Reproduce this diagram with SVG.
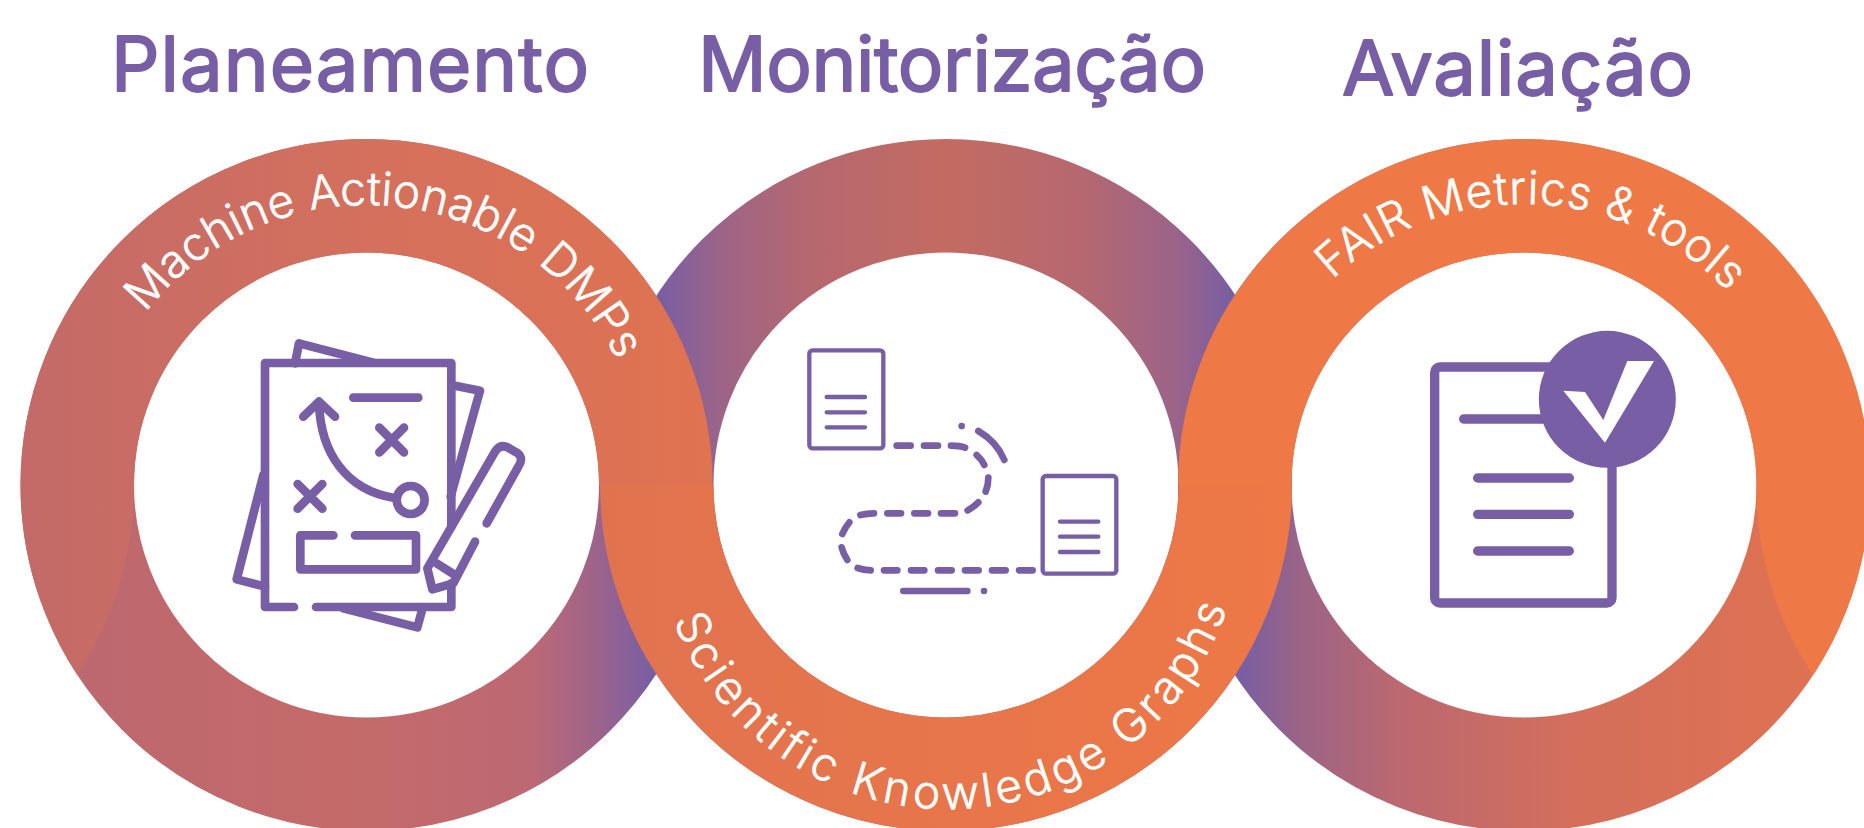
<svg xmlns="http://www.w3.org/2000/svg" width="1864" height="828" viewBox="0 0 1864 828">
<style>
.title{font-family:"Inter","Noto Sans",sans-serif;font-size:76px;font-weight:400;fill:#775ea5;stroke:#775ea5;stroke-width:1.8px;stroke-linejoin:round}
.ring{font-family:"Inter","Noto Sans",sans-serif;font-size:46px;font-weight:300;fill:#fff;stroke:#fff;stroke-width:.6px;stroke-linejoin:round}
.r{fill:none;stroke-width:113.5}
.i{fill:none;stroke:#775ea5;stroke-linecap:round;stroke-linejoin:round}
.w{fill:#fff}
</style>
<defs>
<linearGradient id="gLL" gradientUnits="userSpaceOnUse" x1="21" y1="0" x2="655" y2="0">
<stop offset="0" stop-color="#bb6871"/><stop offset="0.5" stop-color="#c46a69"/><stop offset="0.8" stop-color="#bd6973"/><stop offset="0.9" stop-color="#a06488"/><stop offset="1" stop-color="#775ea5"/>
</linearGradient>
<linearGradient id="gLU" gradientUnits="userSpaceOnUse" x1="21" y1="0" x2="713" y2="0">
<stop offset="0" stop-color="#c36a68"/><stop offset="0.5" stop-color="#d4705d"/><stop offset="1" stop-color="#e07350"/>
</linearGradient>
<linearGradient id="gMU" gradientUnits="userSpaceOnUse" x1="655" y1="0" x2="1237" y2="0">
<stop offset="0" stop-color="#775ea5"/><stop offset="0.11" stop-color="#9c6488"/><stop offset="0.27" stop-color="#b6686f"/><stop offset="0.5" stop-color="#c36b62"/><stop offset="0.73" stop-color="#b6686f"/><stop offset="0.89" stop-color="#9c6488"/><stop offset="1" stop-color="#775ea5"/>
</linearGradient>
<linearGradient id="gML" gradientUnits="userSpaceOnUse" x1="600" y1="0" x2="1292" y2="0">
<stop offset="0" stop-color="#e0734f"/><stop offset="1" stop-color="#ee7846"/>
</linearGradient>
<linearGradient id="gRL" gradientUnits="userSpaceOnUse" x1="1237" y1="0" x2="1870" y2="0">
<stop offset="0" stop-color="#775ea5"/><stop offset="0.1" stop-color="#9b6486"/><stop offset="0.25" stop-color="#bb6870"/><stop offset="0.55" stop-color="#d56f5a"/><stop offset="1" stop-color="#e07250"/>
</linearGradient>
<clipPath id="cL"><rect x="0" y="0" width="1000" height="485"/><circle cx="-212" cy="485" r="346"/></clipPath>
<clipPath id="cM"><rect x="500" y="485" width="900" height="400"/></clipPath>
<clipPath id="cR"><rect x="1100" y="0" width="900" height="485"/><circle cx="2102" cy="485" r="346"/></clipPath>
<path id="pL" d="M145.700 312.900A280 280 0 0 1 617.100 360.100"/>
<path id="pR" d="M1332.400 279.500A281 281 0 0 1 1727.800 291.600"/>
<path id="pM" d="M673.500 620.400A294 294 0 0 0 1227 607.800"/>
</defs>

<g id="titles">
<text class="title" id="t1" x="111" y="91" textLength="478" lengthAdjust="spacing">Planeamento</text>
<text class="title" id="t2" x="698" y="91" textLength="508" lengthAdjust="spacing">Monitorização</text>
<text class="title" id="t3" x="1342" y="95" textLength="351" lengthAdjust="spacing">Avaliação</text>
</g>

<g id="connectors">
<circle class="r" cx="366.500" cy="485" r="289.250" stroke="url(#gLL)"/>
<circle class="r" cx="946" cy="485" r="289.250" stroke="url(#gMU)"/>
<circle class="r" cx="1524" cy="485" r="289.250" stroke="url(#gRL)"/>
<circle class="r" cx="366.500" cy="485" r="289.250" stroke="url(#gLU)" clip-path="url(#cL)"/>
<circle class="r" cx="946" cy="485" r="289.250" stroke="url(#gML)" clip-path="url(#cM)"/>
<circle class="r" cx="1524" cy="485" r="289.250" stroke="#ee7846" clip-path="url(#cR)"/>
</g>

<g id="node-planeamento">
<text class="ring"><textPath href="#pL" textLength="565" lengthAdjust="spacing">Machine Actionable DMPs</textPath></text>
<g transform="translate(200 320) scale(.33333)" class="i" stroke-width="26">
<path d="M285 130L297 70L520 128M754 195L840 212L752 530M190 465L110 778L195 800M430 865L652 922L665 875"/>
<path d="M282 861H195V129H754V620M754 790V861H348"/>
<path d="M460 233H655M310 290L357 245L405 290M357 250C362 400 440 510 580 533M538 323L612 397M612 323L538 397M293 492L367 566M367 492L293 566"/>
<circle cx="632" cy="540" r="42"/>
<path d="M400 646H301V748H648V646H465"/>
<path d="M860 610L955 440Q975 410 945 395L925 383Q900 370 885 395L682 745L697 808L760 790L825 665M710 730L765 765"/>
</g>
</g>

<g id="node-monitorizacao">
<text class="ring"><textPath href="#pM" textLength="721" lengthAdjust="spacing">Scientific Knowledge Graphs</textPath></text>
<g transform="translate(780 330) scale(.33333)" class="i">
<g stroke-width="13">
<rect x="88" y="61" width="222" height="294" rx="10"/>
<rect x="788" y="438" width="221" height="293" rx="10"/>
<path d="M140 201H255M140 247H255M140 292H255M840 575H955M840 620H955M840 666H955"/>
</g>
<path stroke-width="20" d="M350 347H392M432 347H474M513 347Q540 347 555 353M590 375Q605 388 613 405M625 443Q625 465 617 485M595 517Q580 532 563 541M525 550H483M444 550H403M363 550H322M282 550Q260 550 241 555M208 577Q195 592 187 612M185 652Q190 672 202 690M233 714Q250 720 272 721M312 721H352M393 721H433M474 721H515M555 721H596M636 721H677M717 721H758M595 303Q650 335 673 390M370 783H562M545 288h.01M612 783h.01"/>
</g>
</g>

<g id="node-avaliacao">
<text class="ring"><textPath href="#pR" textLength="439" lengthAdjust="spacing">FAIR Metrics &amp; tools</textPath></text>
<g transform="translate(1400 310) scale(.33333)">
<rect class="i" stroke-width="28" x="104" y="171" width="532" height="708" rx="16"/>
<path class="i" stroke-width="28" d="M191 327H440M233 504H508M233 613H508M233 723H508"/>
<circle cx="622" cy="268" r="205.500" fill="#775ea5"/>
<polygon class="w" points="490,242 555,246 610,330 682,153 762,153 615,398"/>
</g>
</g>
</svg>
